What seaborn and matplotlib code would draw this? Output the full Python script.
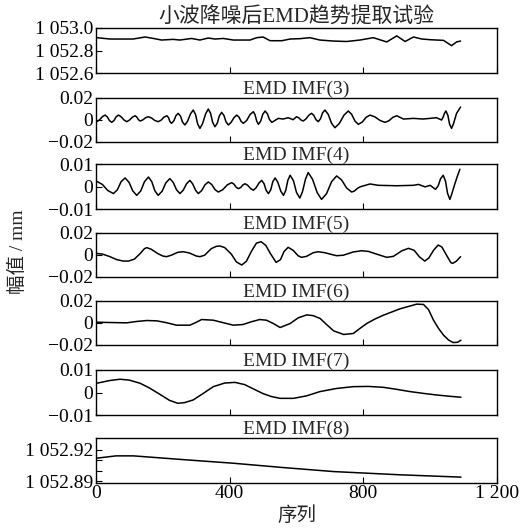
import matplotlib
matplotlib.use("Agg")
import matplotlib.pyplot as plt
import seaborn as sns
import pandas as pd

# ---- data: sample index / value pairs for each trace ----
raw_x = [2, 42, 72, 111, 147, 172, 196, 231, 251, 286, 311, 336, 356, 381, 411, 461, 481, 500,
         521, 556, 581, 610, 640, 670, 710, 750, 790, 830, 870, 900, 925, 950, 975, 1000, 1040,
         1064, 1079, 1091]
raw_y = [1052.914, 1052.902, 1052.902, 1052.902, 1052.920, 1052.907, 1052.893, 1052.899,
         1052.893, 1052.907, 1052.893, 1052.911, 1052.902, 1052.907, 1052.893, 1052.893,
         1052.914, 1052.920, 1052.887, 1052.887, 1052.902, 1052.905, 1052.914, 1052.893,
         1052.884, 1052.880, 1052.893, 1052.914, 1052.876, 1052.930, 1052.880, 1052.920,
         1052.902, 1052.896, 1052.890, 1052.843, 1052.876, 1052.884]

imf3_x = [2, 10, 19, 27, 34, 40, 47, 54, 60, 67, 75, 84, 92, 100, 109, 117, 122, 127, 132, 140,
          148, 156, 166, 176, 186, 195, 203, 212, 217, 221, 226, 233, 239, 246, 253, 259, 266,
          274, 283, 291, 298, 304, 311, 319, 328, 336, 343, 349, 356, 363, 369, 376, 383, 389,
          396, 404, 413, 421, 428, 434, 441, 451, 461, 471, 476, 481, 486, 493, 499, 506, 513,
          519, 526, 533, 539, 546, 560, 575, 590, 600, 607, 613, 620, 628, 637, 645, 652, 658,
          665, 672, 678, 685, 695, 705, 715, 728, 742, 755, 765, 775, 785, 797, 808, 820, 835,
          850, 865, 877, 888, 900, 920, 950, 979, 1019, 1034, 1038, 1043, 1047, 1053, 1058, 1064,
          1070, 1079, 1091]
imf3_y = [-0.0018, -0.0003, 0.0027, 0.0042, 0.0025, -0.0007, -0.0024, -0.0007, 0.0025, 0.0042,
          0.0027, -0.0003, -0.0018, -0.0004, 0.0023, 0.0036, 0.0024, 0.0000, -0.0012, -0.0002,
          0.0017, 0.0027, 0.0016, -0.0007, -0.0018, -0.0004, 0.0023, 0.0036, 0.0019, -0.0016,
          -0.0033, -0.0010, 0.0035, 0.0058, 0.0032, -0.0022, -0.0048, -0.0014, 0.0054, 0.0088,
          0.0046, -0.0037, -0.0079, -0.0035, 0.0053, 0.0097, 0.0057, -0.0024, -0.0064, -0.0031,
          0.0034, 0.0067, 0.0038, -0.0019, -0.0048, -0.0025, 0.0019, 0.0042, 0.0023, -0.0014,
          -0.0033, -0.0007, 0.0047, 0.0073, 0.0044, -0.0013, -0.0042, -0.0012, 0.0049, 0.0079,
          0.0053, 0.0002, -0.0024, -0.0012, 0.0000, 0.0012, 0.0006, 0.0018, 0.0000, 0.0027,
          0.0017, -0.0002, -0.0012, 0.0006, 0.0041, 0.0058, 0.0039, 0.0001, -0.0018, 0.0009,
          0.0062, 0.0088, 0.0048, -0.0033, -0.0073, -0.0035, 0.0041, 0.0079, 0.0049, -0.0012,
          -0.0042, -0.0021, 0.0021, 0.0042, 0.0025, -0.0007, -0.0024, -0.0009, 0.0021, 0.0036,
          0.0006, 0.0012, 0.0006, 0.0018, -0.0003, 0.0018, 0.0058, 0.0079, 0.0040, -0.0040,
          -0.0079, -0.0035, 0.0058, 0.0115]

imf4_x = [2, 19, 35, 52, 64, 75, 87, 99, 110, 122, 134, 145, 157, 167, 176, 186, 198, 209, 221,
          231, 241, 251, 261, 271, 281, 289, 298, 306, 316, 326, 336, 346, 356, 366, 379, 393,
          406, 413, 419, 426, 433, 439, 446, 454, 463, 471, 479, 488, 496, 503, 509, 516, 523,
          529, 536, 544, 553, 561, 568, 574, 581, 591, 600, 610, 618, 627, 635, 648, 662, 675,
          690, 705, 720, 735, 750, 765, 773, 782, 790, 820, 845, 900, 950, 965, 985, 1000, 1016,
          1024, 1031, 1039, 1046, 1052, 1059, 1064, 1069, 1074, 1081, 1089]
imf4_y = [0.0024, 0.0010, -0.0017, -0.0031, -0.0014, 0.0022, 0.0039, 0.0019, -0.0019, -0.0039,
          -0.0019, 0.0022, 0.0043, 0.0022, -0.0018, -0.0039, -0.0020, 0.0017, 0.0036, 0.0019,
          -0.0014, -0.0031, -0.0016, 0.0013, 0.0028, 0.0013, -0.0016, -0.0031, -0.0018, 0.0008,
          0.0021, 0.0010, -0.0013, -0.0024, -0.0014, 0.0008, 0.0018, 0.0011, -0.0002, -0.0009,
          -0.0004, 0.0007, 0.0013, 0.0006, -0.0009, -0.0016, -0.0005, 0.0017, 0.0028, 0.0013,
          -0.0016, -0.0031, -0.0014, 0.0022, 0.0039, 0.0020, -0.0020, -0.0039, -0.0016, 0.0028,
          0.0051, 0.0026, -0.0026, -0.0051, -0.0022, 0.0034, 0.0063, 0.0033, -0.0027, -0.0057,
          -0.0031, 0.0022, 0.0048, 0.0030, -0.0006, -0.0024, -0.0020, -0.0008, -0.0001, 0.0012,
          0.0006, 0.0004, 0.0006, 0.0010, -0.0001, 0.0006, -0.0012, 0.0004, 0.0035, 0.0051,
          0.0024, -0.0030, -0.0057, -0.0036, -0.0011, 0.0013, 0.0045, 0.0078]

imf5_x = [0, 20, 42, 62, 82, 97, 115, 132, 145, 152, 165, 185, 200, 211, 225, 245, 261, 280,
          300, 311, 325, 345, 360, 371, 385, 405, 420, 436, 450, 465, 480, 494, 508, 522, 539,
          552, 563, 575, 590, 605, 615, 630, 650, 665, 685, 705, 720, 740, 770, 795, 815, 840,
          870, 890, 915, 935, 952, 968, 984, 996, 1010, 1024, 1035, 1050, 1062, 1067, 1078, 1091]
imf5_y = [0.0012, 0.0005, -0.0018, -0.0045, -0.0058, -0.0058, -0.0040, 0.0010, 0.0055, 0.0064,
          0.0050, 0.0010, -0.0012, -0.0018, -0.0005, 0.0022, 0.0027, 0.0015, -0.0012, -0.0018,
          -0.0005, 0.0055, 0.0076, 0.0079, 0.0065, 0.0005, -0.0065, -0.0094, -0.0060, 0.0030,
          0.0105, 0.0118, 0.0085, 0.0010, -0.0070, -0.0045, 0.0030, 0.0067, 0.0040, -0.0010,
          -0.0024, -0.0015, 0.0018, 0.0027, 0.0018, 0.0002, -0.0009, -0.0005, 0.0025, 0.0036,
          0.0030, 0.0005, -0.0024, -0.0015, 0.0035, 0.0058, 0.0040, -0.0020, -0.0058, -0.0030,
          0.0040, 0.0088, 0.0070, -0.0010, -0.0072, -0.0079, -0.0060, -0.0018]

imf6_x = [0, 42, 92, 120, 152, 182, 210, 241, 281, 300, 316, 351, 380, 411, 440, 465, 490, 510,
          530, 551, 581, 605, 631, 650, 671, 690, 711, 741, 770, 790, 810, 835, 860, 910, 960,
          980, 995, 1010, 1025, 1040, 1055, 1069, 1082, 1092]
imf6_y = [0.0006, 0.0003, 0.0000, 0.0012, 0.0021, 0.0018, 0.0002, -0.0021, -0.0021, 0.0005,
          0.0030, 0.0024, 0.0002, -0.0021, -0.0015, 0.0010, 0.0030, 0.0024, -0.0005, -0.0042,
          -0.0006, 0.0045, 0.0072, 0.0065, 0.0039, -0.0015, -0.0072, -0.0105, -0.0096, -0.0050,
          -0.0006, 0.0035, 0.0069, 0.0127, 0.0169, 0.0166, 0.0120, 0.0024, -0.0050, -0.0111,
          -0.0155, -0.0178, -0.0175, -0.0157]

imf7_x = [2, 40, 72, 100, 132, 160, 191, 220, 245, 265, 291, 320, 351, 385, 416, 445, 471, 500,
          525, 551, 591, 630, 670, 720, 770, 815, 860, 900, 940, 980, 1019, 1060, 1092]
imf7_y = [0.0041, 0.0053, 0.0059, 0.0055, 0.0041, 0.0020, -0.0008, -0.0035, -0.0048, -0.0045,
          -0.0033, -0.0005, 0.0026, 0.0042, 0.0045, 0.0035, 0.0016, -0.0005, -0.0018, -0.0026,
          -0.0026, -0.0015, 0.0004, 0.0018, 0.0026, 0.0027, 0.0023, 0.0014, 0.0004, -0.0004,
          -0.0011, -0.0017, -0.0021]

imf8_x = [2, 60, 112, 271, 411, 560, 710, 910, 1092]
imf8_y = [1052.9121, 1052.9143, 1052.9143, 1052.9105, 1052.9073, 1052.9032, 1052.8994,
          1052.8963, 1052.8941]

panel_titles = ["小波降噪后EMD趋势提取试验", "EMD IMF(3)", "EMD IMF(4)", "EMD IMF(5)",
                "EMD IMF(6)", "EMD IMF(7)", "EMD IMF(8)"]
y_ticks = [[1052.6, 1052.8, 1053.0], [-0.02, 0, 0.02], [-0.01, 0, 0.01], [-0.02, 0, 0.02],
           [-0.02, 0, 0.02], [-0.01, 0, 0.01], [1052.89, 1052.90, 1052.91, 1052.92]]
y_ticklabels = [["1 052.6", "1 052.8", "1 053.0"], ["\u22120.02", "0", "0.02"],
                ["\u22120.01", "0", "0.01"], ["\u22120.02", "0", "0.02"],
                ["\u22120.02", "0", "0.02"], ["\u22120.01", "0", "0.01"],
                ["1 052.89", "", "", "1 052.92"]]
y_limits = [(1052.6, 1053.0), (-0.02, 0.02), (-0.01, 0.01), (-0.02, 0.02), (-0.02, 0.02),
            (-0.01, 0.01), (1052.8888, 1052.931)]
x_ticks = [0, 400, 800, 1200]
x_ticklabels = ["0", "400", "800", "1 200"]

series = [(raw_x, raw_y), (imf3_x, imf3_y), (imf4_x, imf4_y), (imf5_x, imf5_y),
          (imf6_x, imf6_y), (imf7_x, imf7_y), (imf8_x, imf8_y)]

# ---- style ----
sns.set_theme(style="ticks")
plt.rcParams["font.family"] = ["Liberation Serif", "Noto Sans CJK SC"]
plt.rcParams["font.size"] = 14
plt.rcParams["axes.linewidth"] = 1.0
plt.rcParams["axes.unicode_minus"] = True

W, H = 522, 530
fig = plt.figure(figsize=(W / 100, H / 100), dpi=100)

# panel frames in pixel rows (top, bottom)
rows = [(28, 73), (97.7, 141.7), (164.3, 209), (232.7, 276.7), (300.7, 345), (370, 415),
        (438.3, 482.7)]
left_px, right_px = 96, 497

axes = []
for i, ((top, bot), (xs, ys)) in enumerate(zip(rows, series)):
    ax = fig.add_axes([left_px / W, 1 - bot / H, (right_px - left_px) / W, (bot - top) / H])
    df = pd.DataFrame({"n": xs, "v": ys})
    sns.lineplot(data=df, x="n", y="v", ax=ax, color="black", linewidth=1.1)
    ax.set_xlim(0, 1200)
    ax.set_ylim(*y_limits[i])
    ax.set_yticks(y_ticks[i])
    ax.set_yticklabels(y_ticklabels[i])
    ax.set_xticks(x_ticks)
    if i == len(rows) - 1:
        ax.set_xticklabels(x_ticklabels)
    else:
        ax.set_xticklabels([])
    ax.set_xlabel("")
    ax.set_ylabel("")
    ax.tick_params(direction="in", length=4, width=0.8, colors="black", labelsize=14, pad=2)
    ax.set_title(panel_titles[i], fontsize=14 if i else 15, pad=2 if i else 3)
    for s in ax.spines.values():
        s.set_visible(True)
        s.set_color("black")
    axes.append(ax)

axes[-1].set_xlabel("序列", fontsize=14, labelpad=3)
fig.text(18 / W, 1 - 252 / H, "幅值 / mm", rotation=90, ha="center", va="center", fontsize=14)

fig.savefig("out.png", dpi=100, facecolor="white")
